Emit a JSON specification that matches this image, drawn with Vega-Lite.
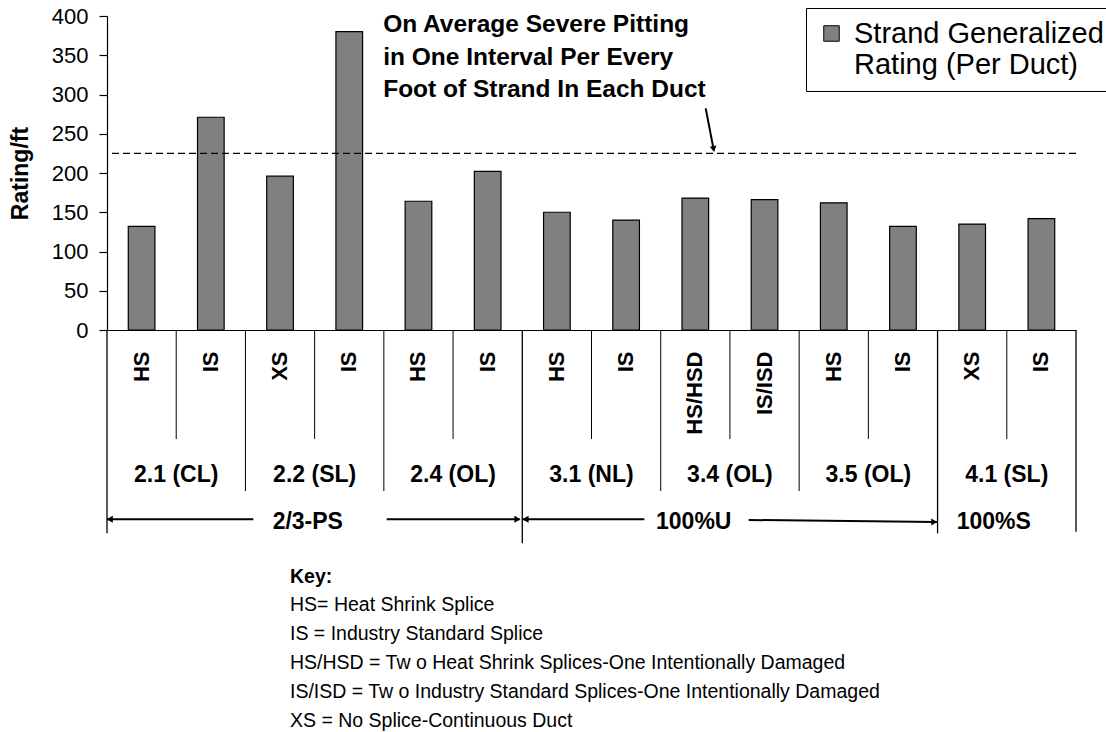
{
  "$schema": "https://vega.github.io/schema/vega-lite/v6.json",
  "width": 969,
  "height": 314,
  "autosize": {"type": "none"},
  "padding": {"left": 107, "top": 16, "right": 30, "bottom": 402},
  "config": {
    "font": "Liberation Sans",
    "view": {"stroke": null},
    "text": {"color": "black"}
  },
  "resolve": {"scale": {"x": "independent"}, "axis": {"x": "independent", "y": "independent"}},
  "layer": [
    {
      "data": {
        "values": [
          {"id": "2.1 (CL)|HS", "group": "2.1 (CL)", "splice": "HS", "value": 132, "divider": "super"},
          {"id": "2.1 (CL)|IS", "group": "2.1 (CL)", "splice": "IS", "value": 271, "divider": "sub"},
          {"id": "2.2 (SL)|XS", "group": "2.2 (SL)", "splice": "XS", "value": 196, "divider": "group"},
          {"id": "2.2 (SL)|IS", "group": "2.2 (SL)", "splice": "IS", "value": 380, "divider": "sub"},
          {"id": "2.4 (OL)|HS", "group": "2.4 (OL)", "splice": "HS", "value": 164, "divider": "group"},
          {"id": "2.4 (OL)|IS", "group": "2.4 (OL)", "splice": "IS", "value": 202, "divider": "sub"},
          {"id": "3.1 (NL)|HS", "group": "3.1 (NL)", "splice": "HS", "value": 150, "divider": "major"},
          {"id": "3.1 (NL)|IS", "group": "3.1 (NL)", "splice": "IS", "value": 140, "divider": "sub"},
          {"id": "3.4 (OL)|HS/HSD", "group": "3.4 (OL)", "splice": "HS/HSD", "value": 168, "divider": "group"},
          {"id": "3.4 (OL)|IS/ISD", "group": "3.4 (OL)", "splice": "IS/ISD", "value": 166, "divider": "sub"},
          {"id": "3.5 (OL)|HS", "group": "3.5 (OL)", "splice": "HS", "value": 162, "divider": "group"},
          {"id": "3.5 (OL)|IS", "group": "3.5 (OL)", "splice": "IS", "value": 132, "divider": "sub"},
          {"id": "4.1 (SL)|XS", "group": "4.1 (SL)", "splice": "XS", "value": 135, "divider": "super"},
          {"id": "4.1 (SL)|IS", "group": "4.1 (SL)", "splice": "IS", "value": 142, "divider": "sub"}
        ]
      },
      "resolve": {"axis": {"y": "independent"}},
      "layer": [
        {
          "mark": {"type": "bar", "stroke": "black", "strokeWidth": 1.2, "width": {"band": 0.385}},
          "encoding": {
            "x": {
              "field": "id",
              "type": "nominal",
              "sort": null,
              "scale": {
                "domain": ["2.1 (CL)|HS", "2.1 (CL)|IS", "2.2 (SL)|XS", "2.2 (SL)|IS", "2.4 (OL)|HS", "2.4 (OL)|IS", "3.1 (NL)|HS", "3.1 (NL)|IS", "3.4 (OL)|HS/HSD", "3.4 (OL)|IS/ISD", "3.5 (OL)|HS", "3.5 (OL)|IS", "4.1 (SL)|XS", "4.1 (SL)|IS"],
                "paddingInner": 0,
                "paddingOuter": 0
              },
              "axis": {
                "title": null,
                "labelExpr": "split(datum.value, '|')[1]",
                "labelAngle": 270,
                "labelAlign": "right",
                "labelBaseline": "middle",
                "labelPadding": 21,
                "labelFontSize": 22,
                "labelFontWeight": "bold",
                "labelColor": "black",
                "labelLimit": 300,
                "ticks": false,
                "tickSize": 0,
                "domainColor": "black",
                "domainWidth": 1.2
              }
            },
            "y": {
              "field": "value",
              "type": "quantitative",
              "scale": {"domain": [0, 400], "nice": false},
              "axis": {
                "title": "Rating/ft",
                "titleFontSize": 23,
                "titleFontWeight": "bold",
                "titleColor": "black",
                "titleAngle": 270,
                "titleAlign": "center",
                "titleBaseline": "alphabetic",
                "titleX": -80,
                "titleY": 157,
                "values": [0, 50, 100, 150, 200, 250, 300, 350, 400],
                "labelOverlap": false,
                "labelFontSize": 22,
                "labelColor": "black",
                "labelPadding": 11,
                "tickSize": 8,
                "tickWidth": 1.2,
                "tickColor": "black",
                "domainColor": "black",
                "domainWidth": 1.2,
                "grid": false
              }
            },
            "color": {
              "datum": "Strand Generalized Rating (Per Duct)",
              "scale": {"range": ["#808080"]},
              "legend": {
                "orient": "none",
                "legendX": 699,
                "legendY": -8,
                "title": null,
                "symbolType": "square",
                "symbolSize": 240,
                "symbolStrokeColor": "black",
                "symbolStrokeWidth": 1,
                "labelFontSize": 29,
                "labelColor": "black",
                "labelLimit": 400,
                "labelOffset": 8,
                "labelExpr": "['Strand Generalized', 'Rating (Per Duct)']",
                "padding": 11,
                "strokeColor": "black",
                "fillColor": "white"
              }
            }
          }
        },
        {
          "transform": [{"filter": "datum.divider == 'sub'"}],
          "mark": {"type": "rule", "color": "black", "strokeWidth": 1},
          "encoding": {
            "x": {"field": "id", "type": "nominal", "sort": null, "bandPosition": 0},
            "y": {"datum": 0, "axis": null},
            "y2": {"datum": -138.9}
          }
        },
        {
          "transform": [{"filter": "datum.divider == 'group'"}],
          "mark": {"type": "rule", "color": "black", "strokeWidth": 1},
          "encoding": {
            "x": {"field": "id", "type": "nominal", "sort": null, "bandPosition": 0},
            "y": {"datum": 0, "axis": null},
            "y2": {"datum": -205.1}
          }
        },
        {
          "transform": [{"filter": "datum.divider == 'super'"}],
          "mark": {"type": "rule", "color": "black", "strokeWidth": 1.3},
          "encoding": {
            "x": {"field": "id", "type": "nominal", "sort": null, "bandPosition": 0},
            "y": {"datum": 0, "axis": null},
            "y2": {"datum": -259}
          }
        },
        {
          "transform": [{"filter": "datum.divider == 'major'"}],
          "mark": {"type": "rule", "color": "black", "strokeWidth": 1.3},
          "encoding": {
            "x": {"field": "id", "type": "nominal", "sort": null, "bandPosition": 0},
            "y": {"datum": 0, "axis": null},
            "y2": {"datum": -271.7}
          }
        },
        {
          "transform": [{"filter": "datum.id == '4.1 (SL)|IS'"}],
          "mark": {"type": "rule", "color": "black", "strokeWidth": 1.3},
          "encoding": {
            "x": {"field": "id", "type": "nominal", "sort": null, "bandPosition": 1},
            "y": {"datum": 0, "axis": null},
            "y2": {"datum": -257}
          }
        },
        {
          "transform": [{"filter": "datum.divider != 'sub'"}],
          "mark": {"type": "text", "align": "center", "baseline": "alphabetic", "fontSize": 23, "fontWeight": "bold", "color": "black"},
          "encoding": {
            "x": {"field": "id", "type": "nominal", "sort": null, "bandPosition": 1},
            "y": {"datum": -193.6, "axis": null},
            "text": {"field": "group"}
          }
        }
      ]
    },
    {
      "data": {"values": [{}]},
      "resolve": {"axis": {"y": "independent"}},
      "layer": [
        {
          "mark": {"type": "rule", "strokeDash": [7, 4], "strokeWidth": 1.3, "color": "black"},
          "encoding": {"y": {"datum": 225, "axis": null}}
        },
        {
          "mark": {"type": "text", "text": ["On Average Severe Pitting", "in One Interval Per Every", "Foot of Strand In Each Duct"], "align": "left", "baseline": "alphabetic", "fontSize": 24.5, "fontWeight": "bold", "lineHeight": 32.5, "color": "black"},
          "encoding": {
            "x": {"datum": 3.99, "type": "quantitative", "scale": {"domain": [0, 14], "nice": false, "zero": false}, "axis": null},
            "y": {"datum": 379.6, "axis": null}
          }
        },
        {
          "mark": {"type": "rule", "color": "black", "strokeWidth": 2},
          "encoding": {
            "x": {"datum": 8.65, "type": "quantitative"},
            "x2": {"datum": 8.762},
            "y": {"datum": 282.4, "axis": null},
            "y2": {"datum": 231}
          }
        },
        {
          "mark": {"type": "point", "shape": "triangle-down", "filled": true, "color": "black", "size": 45, "angle": -11, "opacity": 1},
          "encoding": {
            "x": {"datum": 8.764, "type": "quantitative"},
            "y": {"datum": 230.5, "axis": null}
          }
        },
        {
          "mark": {"type": "text", "text": "2/3-PS", "align": "center", "baseline": "alphabetic", "fontSize": 23, "fontWeight": "bold", "color": "black"},
          "encoding": {"x": {"datum": 2.901, "type": "quantitative"}, "y": {"datum": -254.1, "axis": null}}
        },
        {
          "mark": {"type": "text", "text": "100%U", "align": "center", "baseline": "alphabetic", "fontSize": 23, "fontWeight": "bold", "color": "black"},
          "encoding": {"x": {"datum": 8.477, "type": "quantitative"}, "y": {"datum": -254.1, "axis": null}}
        },
        {
          "mark": {"type": "text", "text": "100%S", "align": "center", "baseline": "alphabetic", "fontSize": 23, "fontWeight": "bold", "color": "black"},
          "encoding": {"x": {"datum": 12.811, "type": "quantitative"}, "y": {"datum": -254.1, "axis": null}}
        },
        {
          "mark": {"type": "rule", "color": "black", "strokeWidth": 2},
          "encoding": {"x": {"datum": 0.0, "type": "quantitative"}, "x2": {"datum": 2.114}, "y": {"datum": -241.1, "axis": null}}
        },
        {
          "mark": {"type": "rule", "color": "black", "strokeWidth": 2},
          "encoding": {"x": {"datum": 4.041, "type": "quantitative"}, "x2": {"datum": 5.96}, "y": {"datum": -241.1, "axis": null}}
        },
        {
          "mark": {"type": "rule", "color": "black", "strokeWidth": 2},
          "encoding": {"x": {"datum": 6.01, "type": "quantitative"}, "x2": {"datum": 7.764}, "y": {"datum": -241.1, "axis": null}}
        },
        {
          "mark": {"type": "rule", "color": "black", "strokeWidth": 2},
          "encoding": {"x": {"datum": 9.271, "type": "quantitative"}, "x2": {"datum": 11.99}, "y": {"datum": -242, "axis": null}, "y2": {"datum": -244.5}}
        },
        {
          "mark": {"type": "point", "shape": "triangle-left", "filled": true, "color": "black", "size": 50, "opacity": 1},
          "encoding": {"x": {"datum": 0.04, "type": "quantitative"}, "y": {"datum": -241.1, "axis": null}}
        },
        {
          "mark": {"type": "point", "shape": "triangle-right", "filled": true, "color": "black", "size": 50, "opacity": 1},
          "encoding": {"x": {"datum": 5.93, "type": "quantitative"}, "y": {"datum": -241.1, "axis": null}}
        },
        {
          "mark": {"type": "point", "shape": "triangle-left", "filled": true, "color": "black", "size": 50, "opacity": 1},
          "encoding": {"x": {"datum": 6.046, "type": "quantitative"}, "y": {"datum": -241.1, "axis": null}}
        },
        {
          "mark": {"type": "point", "shape": "triangle-right", "filled": true, "color": "black", "size": 50, "opacity": 1},
          "encoding": {"x": {"datum": 11.953, "type": "quantitative"}, "y": {"datum": -244.5, "axis": null}}
        },
        {
          "mark": {"type": "text", "text": "Key:", "align": "left", "baseline": "alphabetic", "fontSize": 19.5, "fontWeight": "bold", "color": "black"},
          "encoding": {"x": {"datum": 2.644, "type": "quantitative"}, "y": {"datum": -322.3, "axis": null}}
        },
        {
          "mark": {"type": "text", "text": ["HS= Heat Shrink Splice", "IS = Industry Standard Splice", "HS/HSD = Tw o Heat Shrink Splices-One Intentionally Damaged", "IS/ISD = Tw o Industry Standard Splices-One Intentionally Damaged", "XS = No Splice-Continuous Duct"], "align": "left", "baseline": "alphabetic", "fontSize": 19.5, "lineHeight": 29, "color": "black"},
          "encoding": {"x": {"datum": 2.644, "type": "quantitative"}, "y": {"datum": -357.9, "axis": null}}
        }
      ]
    }
  ]
}
